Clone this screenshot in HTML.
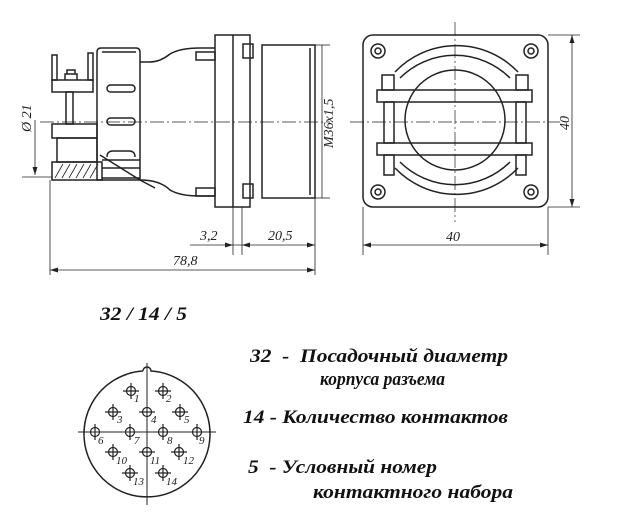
<!DOCTYPE html>
<html><head><meta charset="utf-8"><style>
html,body{margin:0;padding:0;background:#fff}
svg{display:block}
.t{font-family:"Liberation Serif",serif;font-style:italic;font-weight:bold;fill:#111}
.d{font-family:"Liberation Serif",serif;font-style:italic;fill:#222;font-size:13px}
</style></head><body>
<svg width="622" height="524" viewBox="0 0 622 524" xmlns="http://www.w3.org/2000/svg">
<g fill="none" stroke="#222" stroke-width="1.5">
<line x1="40" y1="122" x2="330" y2="122" stroke-width="0.7" stroke-dasharray="14,3,2,3"/>
<rect x="52" y="55" width="5" height="25"/>
<rect x="88" y="53" width="5" height="27"/>
<rect x="52" y="80" width="41" height="12"/>
<path d="M65 80 v-6 h12 v6 M67 74 v-4 h8 v4"/>
<rect x="66" y="92" width="7" height="32"/>
<rect x="52" y="124" width="45" height="14"/>
<rect x="57" y="138" width="40" height="24"/>
<rect x="52" y="162" width="50" height="18"/>
<path d="M55 178 l8 -14 M62 178 l8 -14 M69 178 l8 -14 M76 178 l8 -14 M83 178 l8 -14 M90 178 l8 -14" stroke-width="0.8"/>
<path d="M97 52 q0 -4 4 -4 h35 q4 0 4 4 v128 h-43 z"/>
<path d="M102 52 h34"/>
<rect x="107" y="85" width="28" height="7" rx="3.5"/>
<rect x="107" y="118" width="28" height="7" rx="3.5"/>
<path d="M107 157 q0 -6 6 -6 h16 q6 0 6 6"/>
<path d="M102 160 h38 M102 168 h38 M102 178 h38"/>
<path d="M100 155 L140 180 L155 188"/>
<path d="M140 62 h10 q10 0 20 -8 q10 -6 30 -6 h15"/>
<path d="M140 180 q20 0 30 10 q10 6 30 6 h15"/>
<rect x="196" y="52" width="19" height="8"/>
<rect x="196" y="188" width="19" height="8"/>
<rect x="215" y="35" width="35" height="172"/>
<line x1="233" y1="35" x2="233" y2="207"/>
<rect x="243" y="44" width="10" height="14"/>
<rect x="243" y="184" width="10" height="14"/>
<rect x="262" y="45" width="53" height="153"/>
<line x1="310" y1="48" x2="310" y2="195"/>
<g stroke-width="0.8">
<line x1="50" y1="180" x2="50" y2="275"/>
<line x1="315" y1="198" x2="315" y2="275"/>
<line x1="233" y1="207" x2="233" y2="255"/>
<line x1="242" y1="207" x2="242" y2="255"/>
<line x1="190" y1="245" x2="315" y2="245"/>
<line x1="50" y1="270" x2="315" y2="270"/>
<line x1="322" y1="45" x2="322" y2="198"/>
<line x1="315" y1="45" x2="330" y2="45"/><line x1="315" y1="198" x2="330" y2="198"/>
<line x1="35" y1="120" x2="35" y2="175"/>
<line x1="22" y1="177" x2="52" y2="177"/>
</g>
<rect x="363" y="35" width="185" height="172" rx="10"/>
<circle cx="378" cy="51" r="7"/><circle cx="531" cy="51" r="7"/>
<circle cx="378" cy="192" r="7"/><circle cx="531" cy="192" r="7"/>
<circle cx="378" cy="51" r="3"/><circle cx="531" cy="51" r="3"/>
<circle cx="378" cy="192" r="3"/><circle cx="531" cy="192" r="3"/>
<circle cx="455" cy="120" r="50"/>
<path d="M395 72 A85 85 0 0 1 518 72 M400 78 A78 78 0 0 1 510 78"/>
<path d="M395 168 A85 85 0 0 0 518 168 M400 162 A78 78 0 0 0 510 162"/>
<rect x="377" y="90" width="155" height="12"/>
<rect x="377" y="143" width="155" height="12"/>
<rect x="382" y="75" width="12" height="15"/><rect x="516" y="75" width="12" height="15"/>
<rect x="384" y="102" width="10" height="41"/><rect x="516" y="102" width="10" height="41"/>
<rect x="384" y="155" width="10" height="20"/><rect x="516" y="155" width="10" height="20"/>
<g stroke-width="0.7" stroke-dasharray="14,3,2,3">
<line x1="350" y1="122" x2="560" y2="122"/>
<line x1="455" y1="22" x2="455" y2="222"/>
</g>
<g stroke-width="0.8">
<line x1="363" y1="207" x2="363" y2="255"/>
<line x1="548" y1="207" x2="548" y2="255"/>
<line x1="363" y1="245" x2="548" y2="245"/>
<line x1="548" y1="35" x2="580" y2="35"/>
<line x1="548" y1="207" x2="580" y2="207"/>
<line x1="572" y1="35" x2="572" y2="207"/>
</g>
<path d="M143 371 A63 63 0 1 0 151 371 A4 4 0 0 0 143 371" />
<line x1="78" y1="432" x2="216" y2="432" stroke-width="1"/>
<line x1="147" y1="363" x2="147" y2="505" stroke-width="1"/>
<g stroke-width="1.2">
<circle cx="131" cy="391" r="4.5"/><path d="M123 391h16M131 383v16"/>
<circle cx="163" cy="391" r="4.5"/><path d="M155 391h16M163 383v16"/>
<circle cx="113" cy="412" r="4.5"/><path d="M105 412h16M113 404v16"/>
<circle cx="147" cy="412" r="4.5"/><path d="M139 412h16"/>
<circle cx="180" cy="412" r="4.5"/><path d="M172 412h16M180 404v16"/>
<circle cx="95" cy="432" r="4.5"/><path d="M95 424v16"/>
<circle cx="130" cy="432" r="4.5"/><path d="M130 424v16"/>
<circle cx="163" cy="432" r="4.5"/><path d="M163 424v16"/>
<circle cx="197" cy="432" r="4.5"/><path d="M197 424v16"/>
<circle cx="113" cy="452" r="4.5"/><path d="M105 452h16M113 444v16"/>
<circle cx="147" cy="452" r="4.5"/><path d="M139 452h16"/>
<circle cx="179" cy="452" r="4.5"/><path d="M171 452h16M179 444v16"/>
<circle cx="130" cy="473" r="4.5"/><path d="M122 473h16M130 465v16"/>
<circle cx="163" cy="473" r="4.5"/><path d="M155 473h16M163 465v16"/>
</g>
</g>
<g fill="#222">
<path d="M233 245 l-8 -2.5 v5z M242 245 l8 -2.5 v5z M315 245 l-8 -2.5 v5z M50 270 l8 -2.5 v5z M315 270 l-8 -2.5 v5z M35 175 l-2.5 -8 h5z M363 245 l8 -2.5 v5z M548 245 l-8 -2.5 v5z M572 35 l-2.5 8 h5z M572 207 l-2.5 -8 h5z"/>
</g>
<g class="d" style="font-size:14px">
<text x="200" y="240">3,2</text>
<text x="268" y="240">20,5</text>
<text x="173" y="265">78,8</text>
<text x="446" y="241">40</text>
<text transform="translate(31,132) rotate(-90)">Ø 21</text>
<text transform="translate(333,148) rotate(-90)">M36x1,5</text>
<text transform="translate(569,130) rotate(-90)">40</text>
</g>
<g class="d" style="font-size:11px">
<text x="134" y="402">1</text><text x="166" y="402">2</text>
<text x="117" y="423">3</text><text x="151" y="423">4</text><text x="184" y="423">5</text>
<text x="98" y="444">6</text><text x="134" y="444">7</text><text x="167" y="444">8</text><text x="199" y="444">9</text>
<text x="116" y="464">10</text><text x="150" y="464">11</text><text x="183" y="464">12</text>
<text x="133" y="485">13</text><text x="166" y="485">14</text>
</g>
<g class="t" style="font-size:19px">
<text x="100" y="320" textLength="87" lengthAdjust="spacingAndGlyphs">32 / 14 / 5</text>
<text x="250" y="362" xml:space="preserve" textLength="258" lengthAdjust="spacingAndGlyphs">32  -  Посадочный диаметр</text>
<text x="320" y="385" textLength="125" lengthAdjust="spacingAndGlyphs">корпуса разъема</text>
<text x="243" y="423" textLength="265" lengthAdjust="spacingAndGlyphs">14 - Количество контактов</text>
<text x="248" y="473" xml:space="preserve" textLength="189" lengthAdjust="spacingAndGlyphs">5  - Условный номер</text>
<text x="313" y="498" textLength="200" lengthAdjust="spacingAndGlyphs">контактного набора</text>
</g>
</svg>
</body></html>
